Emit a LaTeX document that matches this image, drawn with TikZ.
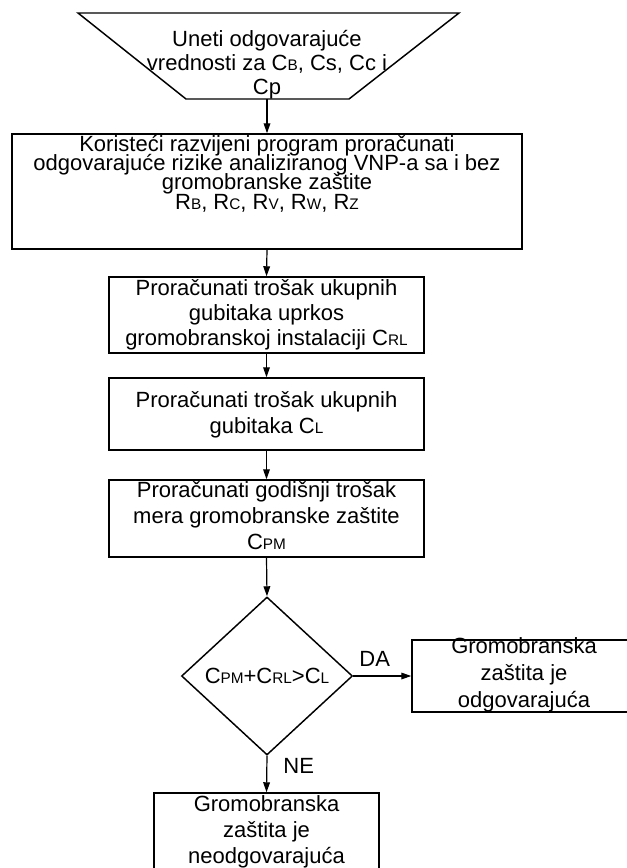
\documentclass[tikz,border=0pt]{standalone}
\usepackage{fontspec}
\setmainfont{Liberation Sans}
\usetikzlibrary{arrows.meta,
                positioning,
                shapes.geometric}
\newcommand{\sm}[1]{{\fontsize{11.5}{12}\selectfont #1}}
\lineskiplimit=-30pt

\tikzset{
  stepbox/.style={draw, line width=1.1pt, inner sep=0pt},
  boxtext/.style={align=center, inner sep=0pt, font=\fontsize{16.5}{19.5}\selectfont},
  flow/.style={-{Triangle[length=7.5pt,width=5pt]}, line width=0.9pt},
  answer/.style={inner sep=0pt, font=\fontsize{16.5}{19.5}\selectfont},
}

\begin{document}
\begin{tikzpicture}[x=0.75pt, y=-0.75pt]
		\useasboundingbox (0,0) rectangle (627,868);
		% ulaz
		\coordinate (unos-gl) at (78,13);
		\coordinate (unos-gd) at (459,13);
		\coordinate (unos-dd) at (349,99);
		\coordinate (unos-dl) at (186,99);
		\coordinate (unos) at (267,99);
		\draw[stepbox, line join=miter] (unos-gl) -- (unos-gd) -- (unos-dd) -- (unos-dl) -- cycle;
		\node[boxtext, font=\fontsize{16.5}{18}\selectfont] (unostxt) at (267,65)
		  {Uneti odgovarajuće\\vrednosti za C\sm{B}, Cs, Cc i\\Cp};
		% koraci
		\node[stepbox, minimum width=382.5pt, minimum height=86.25pt] (rizici) at (267,191.5) {};
		\node[boxtext, font=\fontsize{16.5}{14.5}\selectfont] (rizicitxt) at (267,173.5)
		  {Koristeći razvijeni program proračunati\\odgovarajuće rizike analiziranog VNP-a sa i bez\\gromobranske zaštite\\R\sm{B}, R\sm{C}, R\sm{V}, R\sm{W}, R\sm{Z}};
		\node[stepbox, minimum width=236.25pt, minimum height=57pt] (crl) at (266.5,315) {};
		\node[boxtext, font=\fontsize{16.5}{18.75}\selectfont] (crltxt) at (266.5,315)
		  {Proračunati trošak ukupnih\\gubitaka uprkos\\gromobranskoj instalaciji C\sm{RL}};
		\node[stepbox, minimum width=236.25pt, minimum height=54pt] (cl) at (266.5,414) {};
		\node[boxtext] (cltxt) at (266.5,415) {Proračunati trošak ukupnih\\gubitaka C\sm{L}};
		\node[stepbox, minimum width=236.25pt, minimum height=57.75pt] (cpm) at (266.5,518.5) {};
		\node[boxtext] (cpmtxt) at (266.5,516)
		  {Proračunati godišnji trošak\\mera gromobranske zaštite\\C\sm{PM}};
		% odluka
		\node[stepbox, diamond, minimum width=128.25pt, minimum height=118.5pt, font=\fontsize{16.5}{19.5}\selectfont] (uslov) at (267,676)
		  {C\sm{PM}+C\sm{RL}>C\sm{L}};
		\node[stepbox, minimum width=168pt, minimum height=54pt] (da) at (524,676) {};
		\node[boxtext, font=\fontsize{16.5}{20.25}\selectfont] (datxt) at (524,674.5)
		  {Gromobranska\\zaštita je\\odgovarajuća};
		\node[stepbox, minimum width=168.75pt, minimum height=59.25pt] (ne) at (266.5,832.5) {};
		\node[boxtext] (netxt) at (266.5,832)
		  {Gromobranska\\zaštita je\\neodgovarajuća};
		% veze
		\draw[flow] (unos) -- (unos |- rizici.north);
		\foreach \a/\b in {rizici/crl, crl/cl, cl/cpm, cpm/uslov}{%
		  \draw[flow] (\a.south) -- (\b.north);
		}
		\draw[flow] (uslov.east) -- node[answer, above=7pt, pos=0.37] (dalbl) {DA} (da.west);
		\draw[flow] (uslov.south) -- node[answer, right=12pt, pos=0.28] (nelbl) {NE} (ne.north);
\end{tikzpicture}
\end{document}
